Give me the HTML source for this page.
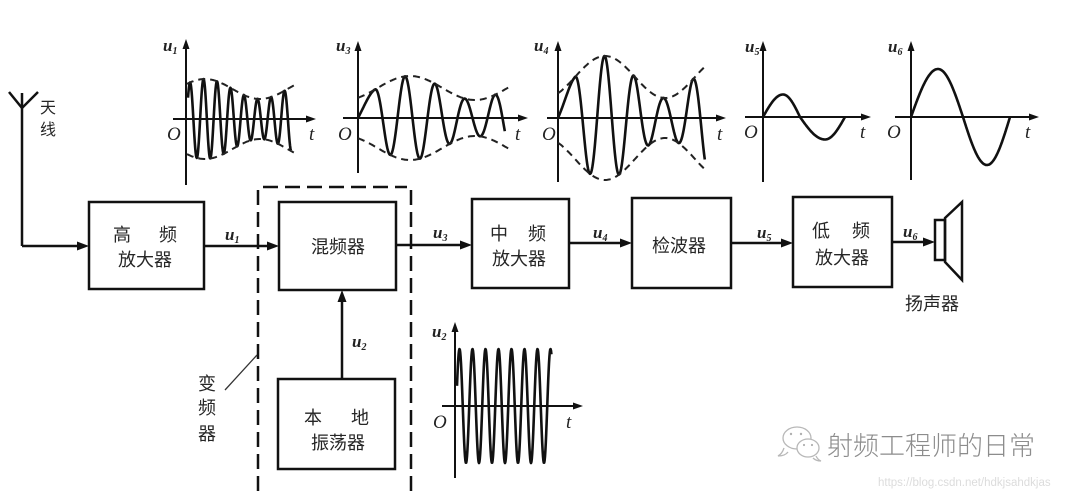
<!DOCTYPE html>
<html><head><meta charset="utf-8">
<style>
html,body{margin:0;padding:0;background:#fff;}
svg{display:block;}
.cj{font-family:"Liberation Sans","Noto Sans CJK SC",sans-serif;font-size:18px;fill:#262626;}
.u{font-family:"Liberation Serif",serif;font-style:italic;font-weight:bold;font-size:17px;fill:#222;}
.o{font-family:"Liberation Serif",serif;font-style:italic;font-size:19px;fill:#222;}
</style></head>
<body>
<svg id="s" width="1080" height="492" viewBox="0 0 1080 492" xmlns="http://www.w3.org/2000/svg">
<rect width="1080" height="492" fill="#fff"/>
<g stroke="#111" stroke-width="2.5" fill="none">
  <!-- antenna -->
  <line x1="9" y1="92" x2="22" y2="108"/>
  <line x1="38" y1="92" x2="22" y2="108"/>
  <line x1="22" y1="93" x2="22" y2="246"/>
  <line x1="22" y1="246" x2="80" y2="246"/>
  <!-- boxes -->
  <rect x="89" y="202" width="115" height="87"/>
  <rect x="279" y="202" width="117" height="88"/>
  <rect x="472" y="199" width="97" height="89"/>
  <rect x="632" y="198" width="99" height="90"/>
  <rect x="793" y="197" width="99" height="90"/>
  <rect x="278" y="379" width="117" height="90"/>
  <!-- connectors -->
  <line x1="204" y1="246" x2="270" y2="246"/>
  <line x1="396" y1="245" x2="463" y2="245"/>
  <line x1="569" y1="243" x2="623" y2="243"/>
  <line x1="731" y1="243" x2="784" y2="243"/>
  <line x1="892" y1="242" x2="926" y2="242"/>
  <line x1="342" y1="379" x2="342" y2="299"/>
  <!-- speaker -->
  <rect x="935" y="220" width="10" height="40"/>
  <polygon points="945,218 962,202 962,280 945,262"/>
</g>
<g fill="#111">
  <polygon points="89,246 77,241.5 77,250.5"/>
  <polygon points="279,246 267,241.5 267,250.5"/>
  <polygon points="472,245 460,240.5 460,249.5"/>
  <polygon points="632,243 620,238.5 620,247.5"/>
  <polygon points="793,243 781,238.5 781,247.5"/>
  <polygon points="935,242 923,237.5 923,246.5"/>
  <polygon points="342,290 337.5,302 346.5,302"/>
</g>
<!-- dashed mixer frame -->
<g stroke="#111" stroke-width="2.5" fill="none" stroke-dasharray="15 7">
  <line x1="263" y1="187" x2="407" y2="187"/>
  <line x1="258" y1="190" x2="258" y2="492"/>
  <line x1="411" y1="190" x2="411" y2="492"/>
</g>
<line x1="225" y1="390" x2="257" y2="355" stroke="#333" stroke-width="1.3"/>

<!-- axes -->
<g stroke="#111" stroke-width="2" fill="none">
  <line x1="186" y1="46" x2="186" y2="185"/><line x1="173" y1="119" x2="308" y2="119"/>
  <line x1="358" y1="48" x2="358" y2="173"/><line x1="343" y1="118" x2="520" y2="118"/>
  <line x1="558" y1="48" x2="558" y2="182"/><line x1="547" y1="118" x2="718" y2="118"/>
  <line x1="763" y1="48" x2="763" y2="182"/><line x1="745" y1="117" x2="863" y2="117"/>
  <line x1="911" y1="48" x2="911" y2="180"/><line x1="895" y1="117" x2="1031" y2="117"/>
  <line x1="455" y1="329" x2="455" y2="478"/><line x1="442" y1="406" x2="575" y2="406"/>
</g>
<g fill="#111">
  <polygon points="186,39 182.5,49 189.5,49"/><polygon points="316,119 306,115.5 306,122.5"/>
  <polygon points="358,41 354.5,51 361.5,51"/><polygon points="528,118 518,114.5 518,121.5"/>
  <polygon points="558,41 554.5,51 561.5,51"/><polygon points="726,118 716,114.5 716,121.5"/>
  <polygon points="763,41 759.5,51 766.5,51"/><polygon points="871,117 861,113.5 861,120.5"/>
  <polygon points="911,41 907.5,51 914.5,51"/><polygon points="1039,117 1029,113.5 1029,120.5"/>
  <polygon points="455,322 451.5,332 458.5,332"/><polygon points="583,406 573,402.5 573,409.5"/>
</g>
<g id="waves" stroke="#111" stroke-width="2.6" fill="none" stroke-linejoin="round"></g>
<g id="env" stroke="#222" stroke-width="2" fill="none" stroke-dasharray="7 5"></g>

<!-- graph labels -->
<text class="u" x="163" y="51">u<tspan font-size="10" dy="3">1</tspan></text>
<text class="u" x="336" y="51">u<tspan font-size="10" dy="3">3</tspan></text>
<text class="u" x="534" y="51">u<tspan font-size="10" dy="3">4</tspan></text>
<text class="u" x="745" y="52">u<tspan font-size="10" dy="3">5</tspan></text>
<text class="u" x="888" y="52">u<tspan font-size="10" dy="3">6</tspan></text>
<text class="u" x="432" y="337">u<tspan font-size="10" dy="3">2</tspan></text>
<text class="o" x="167" y="140">O</text><text class="o" x="309" y="140">t</text>
<text class="o" x="338" y="140">O</text><text class="o" x="515" y="140">t</text>
<text class="o" x="542" y="140">O</text><text class="o" x="717" y="140">t</text>
<text class="o" x="744" y="138">O</text><text class="o" x="860" y="138">t</text>
<text class="o" x="887" y="138">O</text><text class="o" x="1025" y="138">t</text>
<text class="o" x="433" y="428">O</text><text class="o" x="566" y="428">t</text>

<!-- connector labels -->
<text class="u" x="225" y="240">u<tspan font-size="10" dy="3">1</tspan></text>
<text class="u" x="433" y="238">u<tspan font-size="10" dy="3">3</tspan></text>
<text class="u" x="593" y="238">u<tspan font-size="10" dy="3">4</tspan></text>
<text class="u" x="757" y="238">u<tspan font-size="10" dy="3">5</tspan></text>
<text class="u" x="903" y="237">u<tspan font-size="10" dy="3">6</tspan></text>
<text class="u" x="352" y="347">u<tspan font-size="10" dy="3">2</tspan></text>

<!-- Chinese labels -->
<g class="cj" text-anchor="middle">
  <text x="48" y="113" font-size="16">天</text>
  <text x="48" y="135" font-size="16">线</text>
  <text x="122" y="241">高</text><text x="168" y="241">频</text>
  <text x="145" y="266">放大器</text>
  <text x="338" y="253">混频器</text>
  <text x="499" y="240">中</text><text x="537" y="240">频</text>
  <text x="519" y="265">放大器</text>
  <text x="679" y="252">检波器</text>
  <text x="821" y="237">低</text><text x="861" y="237">频</text>
  <text x="842" y="264">放大器</text>
  <text x="313" y="424">本</text><text x="360" y="424">地</text>
  <text x="338" y="449">振荡器</text>
  <text x="207" y="390">变</text>
  <text x="207" y="414">频</text>
  <text x="207" y="440">器</text>
  <text x="932" y="310">扬声器</text>
</g>

<!-- watermark -->
<g stroke="#b8b8b8" stroke-width="1.3" fill="#fff">
  <path d="M784,448 q-2,6 -6,8 q7,0 10,-4"/>
  <ellipse cx="797" cy="438" rx="14" ry="11"/>
  <path d="M816,456 q2,4 5,5 q-5,0 -8,-3"/>
  <ellipse cx="808" cy="448" rx="11" ry="9"/>
</g>
<g fill="#b0b0b0"><circle cx="791" cy="434" r="1.2"/><circle cx="801" cy="434" r="1.2"/><circle cx="804" cy="445" r="1.1"/><circle cx="812" cy="445" r="1.1"/></g>
<text x="827" y="455" font-family="Liberation Sans,'Noto Sans CJK SC',sans-serif" font-size="26" fill="#8c8c8c" style="font-weight:300">射频工程师的日常</text>
<text x="878" y="486" font-family="Liberation Sans,sans-serif" font-size="11.5" fill="#dcdcdc">https://blog.csdn.net/hdkjsahdkjas</text>
</svg>
<script>
(function(){
var NS="http://www.w3.org/2000/svg";
var W=document.getElementById("waves"),E=document.getElementById("env");
function path(g,pts){var d="M"+pts.map(function(p){return p[0].toFixed(1)+","+p[1].toFixed(1);}).join(" L");var e=document.createElementNS(NS,"path");e.setAttribute("d",d);g.appendChild(e);}
function wave(xs,xe,y0,th,amp,f){var p=[];for(var x=xs;x<=xe+0.001;x+=0.4){p.push([x,y0-amp(x)*f(th(x))]);}path(W,p);}
function env(xs,xe,y0,amp){var t=[],b=[];for(var x=xs;x<=xe;x+=1){t.push([x,y0-amp(x)]);b.push([x,y0+amp(x)]);}path(E,t);path(E,b);}
function pw(k,v){return function(x){for(var i=0;i<k.length-1;i++){if(x<=k[i+1]||i==k.length-2){return v[i]+(v[i+1]-v[i])*(x-k[i])/(k[i+1]-k[i]);}}};}
var P=Math.PI;
var A1=function(x){return 30+10*Math.cos(2*P*(x-205)/110);};
wave(188,291,119,function(x){return 2*P*(x-190)/13.5;},A1,Math.cos);
env(187,297,119,A1);
var A3=function(x){return 30+12*Math.cos(2*P*(x-410)/130);};
wave(358,505,118,function(x){return x<375?(x-358)/17*P/2:P/2+2*P*(x-375)/30;},A3,Math.sin);
env(358,511,118,A3);
var A4=function(x){return 41+21*Math.cos(2*P*(x-605)/120);};
wave(558,705,118,function(x){return x<575?(x-558)/17*P/2:P/2+2*P*(x-575)/29.5;},A4,Math.sin);
env(558,706,118,A4);
wave(763,845,117,pw([763,783,800,825,845],[0,P/2,P,1.5*P,2*P]),function(){return 22.5;},Math.sin);
wave(911,1010,117,pw([911,938,963,987,1010],[0,P/2,P,1.5*P,2*P]),function(){return 48;},Math.sin);
wave(457,551.5,406,function(x){return 2*P*(x-459.5)/13;},function(){return 57;},Math.cos);
})();
</script>
</body></html>
